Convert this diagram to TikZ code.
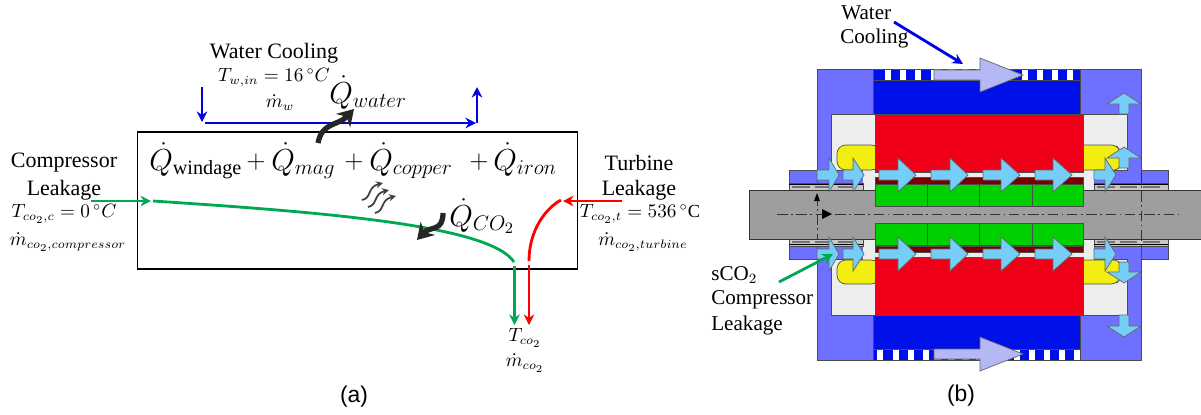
\documentclass[tikz,border=0pt]{standalone}
\usepackage{amsmath}
\usepackage{fontspec}
\setmainfont{Liberation Serif}
\newfontfamily\capfont{Liberation Sans}
\usetikzlibrary{arrows.meta}
\DeclareMathSizes{17}{17}{11.5}{9}
\DeclareMathSizes{10.5}{10.5}{7.5}{6}
\definecolor{housing}{HTML}{6E70FF}
\definecolor{winding}{HTML}{0010E8}
\definecolor{statorred}{HTML}{F00018}
\definecolor{magnet}{HTML}{00D000}
\definecolor{ironred}{HTML}{7A0000}
\definecolor{shaftgray}{HTML}{9E9E9E}
\definecolor{cavity}{HTML}{ECEEEE}
\definecolor{coilyellow}{HTML}{F2EE10}
\definecolor{gasblue}{HTML}{74CEF8}
\definecolor{waterblue}{HTML}{B4B8F4}
\definecolor{greenflow}{HTML}{00A850}
\tikzset{
    label/.style={inner sep=0pt,font=\fontsize{12.5}{14}\selectfont},
    labelb/.style={inner sep=0pt,anchor=west,font=\fontsize{12}{14}\selectfont},
    small/.style={inner sep=0pt,font=\fontsize{10.5}{12}\selectfont},
    heat/.style={inner sep=0pt,anchor=base west,font=\fontsize{17}{19}\selectfont},
    plus/.style={inner sep=0pt,anchor=base west,font=\fontsize{15}{17}\selectfont},
    caption/.style={inner sep=0pt,font=\fontsize{13}{15}\capfont},
    part/.style={draw=black!70,line width=0.4pt},
    flow/.style={draw=black!60,fill=gasblue,line width=0.4pt,line join=miter},
    water/.style={draw=black!60,fill=waterblue,line width=0.4pt},
    line/.style={line width=1.6pt,-{Stealth[length=6pt,width=6pt]}},
    curve/.style={line width=1.6pt},
    heatflow/.style={line width=3pt,black!85,-{Stealth[length=9pt,width=11pt]}},
    wave/.style={line width=1pt,black!75,-{Stealth[length=4pt,width=4pt]}},
    centerline/.style={line width=0.5pt,black!80,dash pattern=on 6pt off 2pt on 1pt off 2pt}
}
\begin{document}
\begin{tikzpicture}[x=0.02cm,y=-0.02cm]
    \useasboundingbox (0,0) rectangle (1201,414);
    %% Control volume
    \node[draw,line width=1.1pt,minimum width=440*0.02cm,minimum height=137*0.02cm,inner sep=0pt] (volume) at (357.5,200.5) {};
    \node[heat] (qwindage) at (149,170) {$\dot{Q}_{\text{windage}}$};
    \node[plus] (plusa) at (246,168) {$+$};
    \node[heat] (qmag) at (271,170) {$\dot{Q}_{mag}$};
    \node[plus] (plusb) at (344,168) {$+$};
    \node[heat] (qcopper) at (369,170) {$\dot{Q}_{copper}$};
    \node[plus] (plusc) at (469,168) {$+$};
    \node[heat] (qiron) at (493,170) {$\dot{Q}_{iron}$};
    \node[heat] (qwater) at (329,103) {$\dot{Q}_{water}$};
    \node[heat] (qco2) at (449,226) {$\dot{Q}_{CO_2}$};
    %% Water loop
    \node[label] (coolinga) at (274,53) {Water Cooling};
    \node[small] (twater) at (274,78) {$T_{w,in}=16\,^{\circ}C$};
    \node[small] (mwater) at (280,103) {$\dot{m}_w$};
    \coordinate (wtop) at (202,87);
    \coordinate (wleft) at (202,122);
    \coordinate (wstart) at (205,123);
    \coordinate (wright) at (476,123);
    \coordinate (wcorner) at (477,123);
    \coordinate (wend) at (477,87);
    \draw[line,blue!90!black] (wtop) -- (wleft);
    \draw[line,blue!90!black] (wstart) -- (wright);
    \draw[line,blue!90!black] (wcorner) -- (wend);
    %% Compressor side
    \node[label] (compa) at (64,163) {Compressor};
    \node[label] (compb) at (64,190) {Leakage};
    \node[small] (tcomp) at (64,214) {$T_{co_2,c}=0\,^{\circ}C$};
    \node[small] (mcomp) at (68,242) {$\dot{m}_{co_2,compressor}$};
    \coordinate (gin) at (91,201);
    \coordinate (gport) at (151,201);
    \coordinate (gstart) at (153,201);
    \coordinate (gbend) at (514,262);
    \coordinate (gexit) at (514.5,266);
    \coordinate (gout) at (514.5,325);
    \draw[line,greenflow] (gin) -- (gport);
    \draw[curve,greenflow] (gstart) .. controls (320,212) and (490,225) .. (gbend);
    \draw[line,greenflow] (gexit) -- (gout);
    %% Turbine side
    \node[label] (turba) at (639,163) {Turbine};
    \node[label] (turbb) at (639,190) {Leakage};
    \node[small] (tturb) at (640,214) {$T_{co_2,t}=536\,^{\circ}$C};
    \node[small] (mturb) at (643,242) {$\dot{m}_{co_2,turbine}$};
    \coordinate (rin) at (622,201);
    \coordinate (rport) at (563,201);
    \coordinate (rstart) at (561,200);
    \coordinate (rbend) at (529,261);
    \coordinate (rexit) at (529,265);
    \coordinate (rout) at (529,325);
    \draw[line,red] (rin) -- (rport);
    \draw[curve,red] (rstart) .. controls (546,208) and (529,230) .. (rbend);
    \draw[line,red] (rexit) -- (rout);
    %% Outlet
    \node[small] (toutlet) at (525,338) {$T_{co_2}$};
    \node[small] (moutlet) at (525,363) {$\dot{m}_{co_2}$};
    %% Heat arrows
    \coordinate (qwa) at (318,143);
    \coordinate (qwb) at (354,109);
    \coordinate (qca) at (443,213);
    \coordinate (qcb) at (417,240);
    \draw[heatflow] (qwa) .. controls (322,122) and (338,126) .. (qwb);
    \draw[heatflow] (qca) .. controls (443,232) and (430,226) .. (qcb);
    \foreach \xs/\ys in {362/200,368/207,375/213}{
        \draw[wave] (\xs,\ys) .. controls (\xs+10,\ys-2) and (\xs+5,\ys-13) .. (\xs+21,\ys-17);
    }
    \node[caption] (capa) at (354,397) {(a)};
    %% Housing
    \draw[part,fill=housing] (789,170) rectangle (863,190);
    \draw[part,fill=housing] (1094,170) rectangle (1168,190);
    \draw[part,fill=housing] (789,239) rectangle (863,259);
    \draw[part,fill=housing] (1094,239) rectangle (1168,259);
    \draw[part,fill=housing] (817,69) rectangle (1141,360);
    %% Cavities and end windings
    \draw[part,fill=cavity] (831,114) rectangle (1127,170);
    \draw[part,fill=cavity] (831,259) rectangle (1127,315);
    \fill[cavity] (863,165) rectangle (1094,264);
    \draw[part,fill=coilyellow,rounded corners=5pt] (880,145) -- (837,145) -- (837,170) -- (880,170) -- cycle;
    \draw[part,fill=coilyellow,rounded corners=5pt] (880,284) -- (837,284) -- (837,260) -- (880,260) -- cycle;
    \draw[part,fill=coilyellow,rounded corners=3pt] (1078,145) -- (1116,145) -- (1120,150) -- (1120,170) -- (1078,170) -- cycle;
    \draw[part,fill=coilyellow,rounded corners=3pt] (1078,284) -- (1116,284) -- (1120,279) -- (1120,260) -- (1078,260) -- cycle;
    %% Cooling jacket
    \draw[part,fill=winding] (873,69) rectangle (1080,114);
    \draw[part,fill=winding] (873,315) rectangle (1080,360);
    \foreach \xs in {885,900,915,931,1022,1037,1052,1067}{
        \fill[white] (\xs,70) rectangle (\xs+6,80);
    }
    \foreach \xs in {877,893,908,923,1014,1029,1044,1059,1074}{
        \fill[white] (\xs,349) rectangle (\xs+6,360);
    }
    \draw[black!70,line width=0.4pt] (873,80) -- (1080,80);
    \draw[black!70,line width=0.4pt] (873,349) -- (1080,349);
    \draw[black!45,line width=0.8pt,dash pattern=on 4pt off 4pt] (934,70) -- (980,70);
    \draw[black!45,line width=0.8pt,dash pattern=on 4pt off 4pt] (934,359) -- (1000,359);
    %% Stator
    \draw[part,fill=statorred] (875,114) rectangle (1083,172);
    \draw[part,fill=statorred] (875,257) rectangle (1083,315);
    %% Seals
    \foreach \xa/\xb in {789/863,1094/1168}{
        \draw[part,fill=black!22] (\xa,183) rectangle (\xb,190);
        \draw[part,fill=black!22] (\xa,239) rectangle (\xb,246);
        \draw[black,line width=0.4pt] (\xa,184.5) -- (\xb,184.5);
        \draw[black,line width=0.4pt] (\xa,244.5) -- (\xb,244.5);
        \draw[black!55,line width=0.6pt,dash pattern=on 10pt off 3pt] (\xa+3,187) -- (\xb-3,187);
        \draw[black!55,line width=0.6pt,dash pattern=on 10pt off 3pt] (\xa+3,242) -- (\xb-3,242);
    }
    %% Shaft
    \fill[shaftgray] (749,190) rectangle (1201,239);
    \draw[black!80,line width=0.5pt] (1201,190) -- (749,190) -- (749,239) -- (1201,239);
    %% Rotor
    \foreach \ya/\yb/\yc/\yd in {177/184/184/206,252/246/245/223}{
        \draw[part,fill=ironred] (875,\ya) rectangle (1083,\yb);
        \draw[part,fill=magnet] (875,\yc) rectangle (1083,\yd);
        \foreach \xs in {927,979,1032}{
            \draw[part] (\xs,\yc) -- (\xs,\yd);
        }
    }
    %% Centre lines
    \draw[centerline] (777,214) -- (1180,214);
    \draw[centerline] (817,195) -- (817,239);
    \draw[centerline] (1141,172) -- (1141,248);
    \fill[black] (832,214) -- (822,209) -- (822,219) -- cycle;
    \fill[black] (817,193) -- (814,201) -- (820,201) -- cycle;
    %% Gas flow
    \foreach \yf in {175,254}{
        \foreach \xa/\xb/\xc in {817/829/839,843/853/864,879/898/916,931/950/968,983/1001/1020,1035/1053/1072,1094/1105/1116}{
            \draw[flow] (\xa,\yf-5) -- (\xb,\yf-5) -- (\xb,\yf-17) -- (\xc,\yf) -- (\xb,\yf+17) -- (\xb,\yf+5) -- (\xa,\yf+5) -- cycle;
        }
    }
    \foreach \yt/\yb/\ys in {93/104/114,147/158/168,283/272/262,337/326/315}{
        \draw[flow] (1124,\yt) -- (1141,\yb) -- (1129,\yb) -- (1129,\ys) -- (1119,\ys) -- (1119,\yb) -- (1107,\yb) -- cycle;
    }
    %% Water flow
    \foreach \yf in {75,354}{
        \draw[water] (934,\yf-5) -- (980,\yf-5) -- (980,\yf-17) -- (1023,\yf) -- (980,\yf+17) -- (980,\yf+5) -- (934,\yf+5) -- cycle;
    }
    %% Labels
    \node[labelb] (coolb) at (841,13) {Water};
    \node[labelb] (coolc) at (840,38) {Cooling};
    \coordinate (wfrom) at (894,22);
    \coordinate (wto) at (963,64);
    \draw[line,blue!90!black] (wfrom) -- (wto);
    \node[labelb] (sco) at (711,275) {sCO$_2$};
    \node[labelb] (scoa) at (711,300) {Compressor};
    \node[labelb] (scob) at (711,325) {Leakage};
    \coordinate (gfrom) at (779,282);
    \coordinate (gto) at (833,254);
    \draw[line,greenflow] (gfrom) -- (gto);
    \node[caption] (capb) at (961,396) {(b)};
\end{tikzpicture}
\end{document}
